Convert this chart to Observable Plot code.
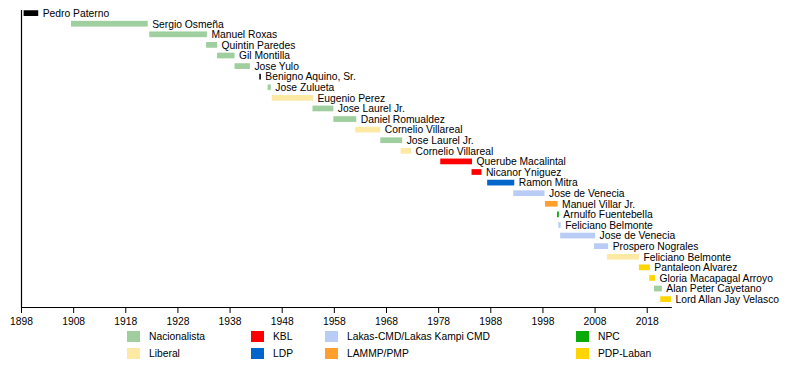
<!DOCTYPE html>
<html><head><meta charset="utf-8">
<script src="https://cdn.jsdelivr.net/npm/d3@7"></script>
<script src="https://cdn.jsdelivr.net/npm/@observablehq/plot@0.6"></script>
<style>
body{margin:0;background:#fff;font-family:"Liberation Sans",Arial,sans-serif;}
#wrap{position:relative;width:800px;height:367px;overflow:hidden;}
#legend{position:absolute;left:0;top:330px;width:800px;height:37px;font-size:10.3px;color:#000;}
.item{position:absolute;height:12px;}
.sw{position:absolute;left:0;top:0;width:13px;height:11px;}
.lb{position:absolute;left:22px;top:-1px;white-space:nowrap;line-height:13px;}
</style></head><body><div id="wrap"><div id="chart"></div><div id="legend"></div></div>
<script>
// Speakers (one row each, top to bottom)
const names = ["Pedro Paterno","Sergio Osmeña","Manuel Roxas","Quintin Paredes","Gil Montilla","Jose Yulo","Benigno Aquino, Sr.","Jose Zulueta","Eugenio Perez","Jose Laurel Jr.","Daniel Romualdez","Cornelio Villareal","Jose Laurel Jr.","Cornelio Villareal","Querube Macalintal","Nicanor Yniguez","Ramon Mitra","Jose de Venecia","Manuel Villar Jr.","Arnulfo Fuentebella","Feliciano Belmonte","Jose de Venecia","Prospero Nograles","Feliciano Belmonte","Pantaleon Alvarez","Gloria Macapagal Arroyo","Alan Peter Cayetano","Lord Allan Jay Velasco"];
const starts = [1898.5,1907.6,1922.6,1933.5,1935.6,1938.95,1943.7,1945.3,1946.1,1953.9,1957.9,1962.1,1966.9,1970.8,1978.4,1984.4,1987.4,1992.4,1998.5,2000.8,2001.05,2001.4,2007.9,2010.4,2016.5,2018.5,2019.4,2020.6];
const ends   = [1901.3,1922.3,1933.65,1935.6,1938.95,1941.9,1944.0,1945.9,1954.0,1957.9,1962.3,1966.9,1971.1,1972.8,1984.5,1986.3,1992.6,1998.4,2000.9,2001.15,2001.5,2008.1,2010.6,2016.5,2018.6,2019.6,2020.9,2022.65];
const parties = ["None","Nacionalista","Nacionalista","Nacionalista","Nacionalista","Nacionalista","None","Nacionalista","Liberal","Nacionalista","Nacionalista","Liberal","Nacionalista","Liberal","KBL","KBL","LDP","Lakas-CMD/Lakas Kampi CMD","LAMMP/PMP","NPC","Lakas-CMD/Lakas Kampi CMD","Lakas-CMD/Lakas Kampi CMD","Lakas-CMD/Lakas Kampi CMD","Liberal","PDP-Laban","PDP-Laban","Nacionalista","PDP-Laban"];

// Legend parties and colours
const partyNames = ["Nacionalista","Liberal","KBL","LDP","Lakas-CMD/Lakas Kampi CMD","LAMMP/PMP","NPC","PDP-Laban"];
const partyColors = ["#9fcf9f","#fde8a4","#ff0000","#0066cc","#b9ccf5","#ff9f2e","#0aaa0a","#ffd500"];
const tickYears = [1898,1908,1918,1928,1938,1948,1958,1968,1978,1988,1998,2008,2018];

const colorOf = new Map(partyNames.map((p, i) => [p, partyColors[i]]));
colorOf.set("None", "#000000");
const rows = names.map((n, i) => ({i, name: n, start: starts[i], end: ends[i], party: parties[i]}));

const chart = Plot.plot({
  width: 800,
  height: 330,
  marginLeft: 21,
  marginRight: 129.3,
  marginTop: 10,
  marginBottom: 23,
  x: {domain: [1898, 2022.6], label: null},
  y: {type: "band", domain: rows.map(d => d.i), round: false, paddingInner: 0.46, paddingOuter: 0.25, align: 0.05, axis: null},
  style: {fontFamily: '"Liberation Sans", Arial, sans-serif', fontSize: "10.3px", color: "#000", background: "#fff", overflow: "visible"},
  marks: [
    Plot.barX(rows, {x1: "start", x2: "end", y: "i", fill: d => colorOf.get(d.party)}),
    Plot.text(rows, {x: "end", y: "i", text: "name", textAnchor: "start", dx: 4, fill: "#000"}),
    Plot.ruleX([1898], {stroke: "#000", strokeWidth: 1.2}),
    Plot.frame({anchor: "bottom", stroke: "#000", strokeWidth: 1.2}),
    Plot.axisX({ticks: tickYears, tickSize: 6, tickPadding: 4, tickFormat: d => String(d), label: null, stroke: "#000", strokeOpacity: 1})
  ]
});
document.getElementById("chart").appendChild(chart);

// Legend: 4 columns x 2 rows
const colLeft = [127, 251, 325, 576];
const rowTop = [1, 18];
const legend = document.getElementById("legend");
partyNames.forEach((p, k) => {
  const c = Math.floor(k / 2), r = k % 2;
  const it = document.createElement("div");
  it.className = "item";
  it.style.left = colLeft[c] + "px";
  it.style.top = rowTop[r] + "px";
  const sw = document.createElement("div");
  sw.className = "sw";
  sw.style.background = partyColors[k];
  const lb = document.createElement("div");
  lb.className = "lb";
  lb.textContent = p;
  it.appendChild(sw); it.appendChild(lb);
  legend.appendChild(it);
});
</script>
</body></html>
